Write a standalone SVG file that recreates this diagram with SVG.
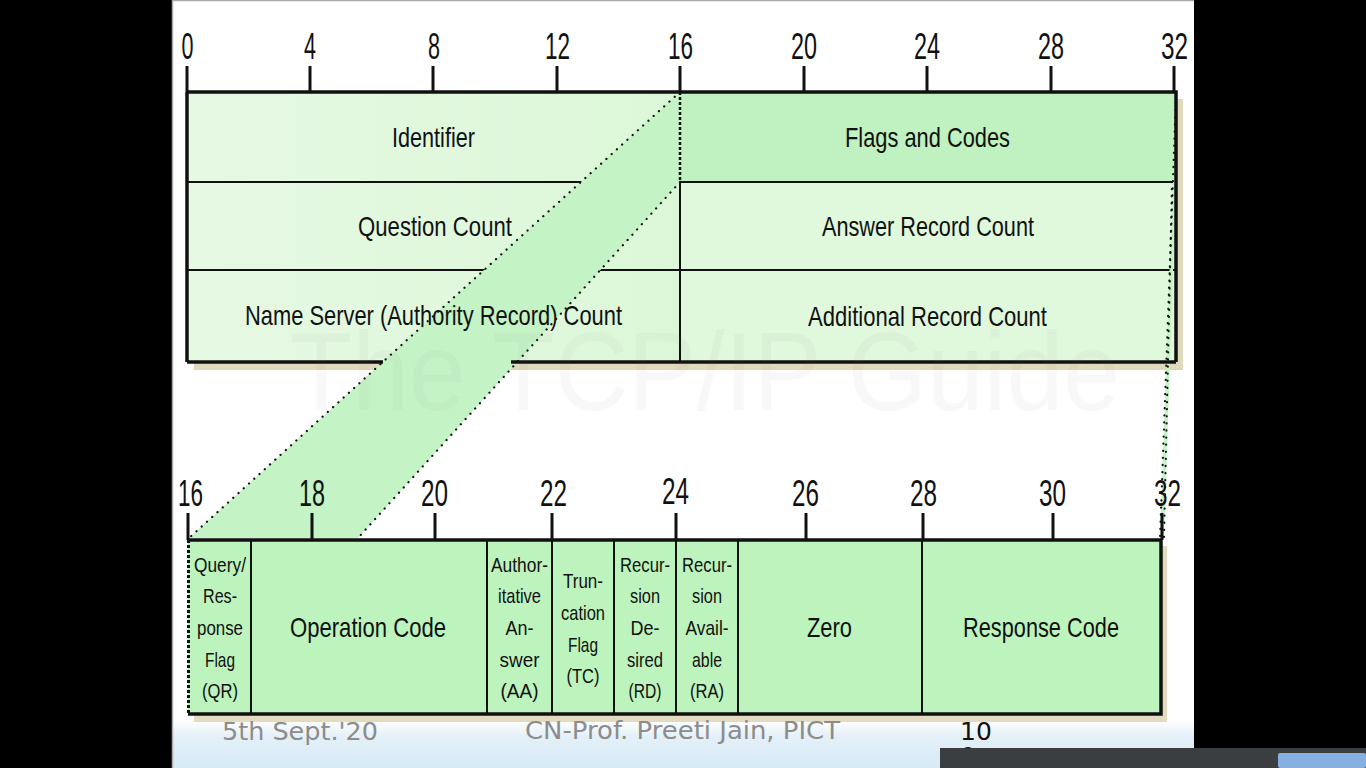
<svg xmlns="http://www.w3.org/2000/svg" width="1366" height="768" viewBox="0 0 1366 768">
<defs>
<linearGradient id="foot" x1="0" y1="0" x2="0" y2="1">
<stop offset="0" stop-color="#ffffff"/>
<stop offset="0.35" stop-color="#e3f0f8"/>
<stop offset="1" stop-color="#d6eaf6"/>
</linearGradient>
<linearGradient id="topcell" x1="0" y1="0" x2="1" y2="0">
<stop offset="0" stop-color="#e6f9e3"/>
<stop offset="1" stop-color="#dcf7d8"/>
</linearGradient>
</defs>
<style>
.n{font-family:"Liberation Sans Narrow","Liberation Sans",Arial,sans-serif;fill:#111;text-anchor:middle}
.r{font-size:36px}
.t{font-size:28px}
.s{font-size:21px}
.tick{stroke:#111;stroke-width:3}
.grid{stroke:#111;stroke-width:2;fill:none}
.border{stroke:#111;stroke-width:3.5;fill:none}
.dot{stroke:#111;stroke-width:2.2;stroke-linecap:round;stroke-dasharray:0.1 7;fill:none}
.foot{font-family:"DejaVu Sans","Open Sans",sans-serif;font-size:24px;fill:#8c8c8c}
</style>
<rect x="0" y="0" width="1366" height="768" fill="#000"/>
<rect x="172" y="0" width="1022" height="768" fill="#fff"/>
<rect x="172" y="720" width="1022" height="48" fill="url(#foot)"/>
<line x1="172" y1="0.5" x2="1194" y2="0.5" stroke="#aaa" stroke-width="1.5"/>
<line x1="172.5" y1="0" x2="172.5" y2="768" stroke="#aaa" stroke-width="1.5"/>

<g id="top-table">
<rect x="194" y="99" width="989" height="271" fill="#e0d9bb"/>
<rect x="187" y="92" width="493" height="270" fill="url(#topcell)"/>
<rect x="680" y="92" width="496" height="90" fill="#bff2c0"/>
<rect x="680" y="182" width="496" height="180" fill="#e0f8dc"/>
<line class="grid" x1="187" y1="182" x2="1176" y2="182"/>
<line class="grid" x1="187" y1="270" x2="1176" y2="270"/>
<line class="grid" x1="680" y1="182" x2="680" y2="362"/>
</g>

<g id="bottom-table">
<rect x="194" y="546" width="973" height="176" fill="#e3dbbf"/>
<rect x="188" y="540" width="973" height="174" fill="#bdf4bd"/>
<line class="grid" x1="251" y1="540" x2="251" y2="714"/>
<line class="grid" x1="487" y1="540" x2="487" y2="714"/>
<line class="grid" x1="552" y1="540" x2="552" y2="714"/>
<line class="grid" x1="614" y1="540" x2="614" y2="714"/>
<line class="grid" x1="676" y1="540" x2="676" y2="714"/>
<line class="grid" x1="738" y1="540" x2="738" y2="714"/>
<line class="grid" x1="922" y1="540" x2="922" y2="714"/>
<polyline class="border" points="188,540 1161,540 1161,714 188,714"/>
<line x1="188.5" y1="540" x2="188.5" y2="714" stroke="#111" stroke-width="3" stroke-dasharray="3 2"/>
</g>

<g id="connectors">
<polygon points="680,92 680,182 358,538 189,538" fill="#c4f3c5"/>
<polygon points="1176,92 1176,182 1164,538 1160,538" fill="#c4f3c5"/>
<line class="dot" x1="680" y1="92" x2="189" y2="538"/>
<line class="dot" x1="680" y1="182" x2="358" y2="538"/>
<line class="dot" x1="1176" y1="96" x2="1160" y2="538"/>
<line class="dot" x1="1172" y1="182" x2="1164" y2="538"/>
</g>

<g id="top-frame">
<polyline class="border" points="187,92 1176,92 1176,362"/>
<line class="border" x1="187" y1="92" x2="187" y2="362"/>
<line class="border" x1="187" y1="362" x2="383" y2="362"/>
<line class="border" x1="511" y1="362" x2="1176" y2="362"/>
<line x1="680" y1="92" x2="680" y2="182" stroke="#111" stroke-width="2.5" stroke-dasharray="3 2"/>
</g>

<g id="top-ruler">
<line class="tick" x1="187" y1="66" x2="187" y2="92"/>
<line class="tick" x1="310" y1="66" x2="310" y2="92"/>
<line class="tick" x1="433" y1="66" x2="433" y2="92"/>
<line class="tick" x1="557" y1="66" x2="557" y2="92"/>
<line class="tick" x1="680" y1="66" x2="680" y2="92"/>
<line class="tick" x1="804" y1="66" x2="804" y2="92"/>
<line class="tick" x1="927" y1="66" x2="927" y2="92"/>
<line class="tick" x1="1051" y1="66" x2="1051" y2="92"/>
<line class="tick" x1="1174" y1="66" x2="1174" y2="92"/>
<text class="n r" x="187.5" y="59" textLength="12" lengthAdjust="spacingAndGlyphs">0</text>
<text class="n r" x="310" y="59" textLength="12" lengthAdjust="spacingAndGlyphs">4</text>
<text class="n r" x="434" y="59" textLength="12" lengthAdjust="spacingAndGlyphs">8</text>
<text class="n r" x="557.5" y="59" textLength="25" lengthAdjust="spacingAndGlyphs">12</text>
<text class="n r" x="680.5" y="59" textLength="25" lengthAdjust="spacingAndGlyphs">16</text>
<text class="n r" x="804" y="59" textLength="26" lengthAdjust="spacingAndGlyphs">20</text>
<text class="n r" x="927" y="59" textLength="26" lengthAdjust="spacingAndGlyphs">24</text>
<text class="n r" x="1051" y="59" textLength="26" lengthAdjust="spacingAndGlyphs">28</text>
<text class="n r" x="1174.5" y="59" textLength="27" lengthAdjust="spacingAndGlyphs">32</text>
</g>

<g id="bottom-ruler">
<line class="tick" x1="188" y1="513" x2="188" y2="540"/>
<line class="tick" x1="312" y1="513" x2="312" y2="540"/>
<line class="tick" x1="435" y1="513" x2="435" y2="540"/>
<line class="tick" x1="552" y1="513" x2="552" y2="540"/>
<line class="tick" x1="676" y1="513" x2="676" y2="540"/>
<line class="tick" x1="806" y1="513" x2="806" y2="540"/>
<line class="tick" x1="923" y1="513" x2="923" y2="540"/>
<line class="tick" x1="1053" y1="513" x2="1053" y2="540"/>
<line class="tick" x1="1162" y1="513" x2="1162" y2="540"/>
<text class="n r" x="190.5" y="506" textLength="25" lengthAdjust="spacingAndGlyphs">16</text>
<text class="n r" x="312" y="506" textLength="26" lengthAdjust="spacingAndGlyphs">18</text>
<text class="n r" x="434.5" y="506" textLength="27" lengthAdjust="spacingAndGlyphs">20</text>
<text class="n r" x="553.5" y="506" textLength="27" lengthAdjust="spacingAndGlyphs">22</text>
<text class="n r" x="675.5" y="504" textLength="27" lengthAdjust="spacingAndGlyphs">24</text>
<text class="n r" x="805.5" y="506" textLength="27" lengthAdjust="spacingAndGlyphs">26</text>
<text class="n r" x="923.5" y="506" textLength="27" lengthAdjust="spacingAndGlyphs">28</text>
<text class="n r" x="1052.5" y="506" textLength="27" lengthAdjust="spacingAndGlyphs">30</text>
<text class="n r" x="1167.5" y="506" textLength="27" lengthAdjust="spacingAndGlyphs">32</text>
</g>

<g id="n-identifier"><text class="n t" x="433.5" y="147" textLength="83" lengthAdjust="spacingAndGlyphs">Identifier</text></g>
<g id="n-flags"><text class="n t" x="927.5" y="147" textLength="165" lengthAdjust="spacingAndGlyphs">Flags and Codes</text></g>
<g id="n-qcount"><text class="n t" x="435" y="236" textLength="154" lengthAdjust="spacingAndGlyphs">Question Count</text></g>
<g id="n-ancount"><text class="n t" x="928" y="236" textLength="212" lengthAdjust="spacingAndGlyphs">Answer Record Count</text></g>
<g id="n-nscount"><text class="n t" x="433.5" y="325" textLength="377" lengthAdjust="spacingAndGlyphs">Name Server (Authority Record) Count</text></g>
<g id="n-arcount"><text class="n t" x="927.5" y="326" textLength="239" lengthAdjust="spacingAndGlyphs">Additional Record Count</text></g>

<g id="n-qr">
<text class="n s" x="220" y="572" textLength="52" lengthAdjust="spacingAndGlyphs">Query/</text>
<text class="n s" x="220" y="603" textLength="34" lengthAdjust="spacingAndGlyphs">Res-</text>
<text class="n s" x="220" y="635" textLength="46" lengthAdjust="spacingAndGlyphs">ponse</text>
<text class="n s" x="220" y="667" textLength="30" lengthAdjust="spacingAndGlyphs">Flag</text>
<text class="n s" x="220" y="698" textLength="36" lengthAdjust="spacingAndGlyphs">(QR)</text>
</g>
<g id="n-opcode"><text class="n t" x="368" y="637" textLength="156" lengthAdjust="spacingAndGlyphs">Operation Code</text></g>
<g id="n-aa">
<text class="n s" x="519.5" y="572" textLength="57" lengthAdjust="spacingAndGlyphs">Author-</text>
<text class="n s" x="519.5" y="603" textLength="43" lengthAdjust="spacingAndGlyphs">itative</text>
<text class="n s" x="519.5" y="635" textLength="28" lengthAdjust="spacingAndGlyphs">An-</text>
<text class="n s" x="519.5" y="667" textLength="40" lengthAdjust="spacingAndGlyphs">swer</text>
<text class="n s" x="519.5" y="698" textLength="38" lengthAdjust="spacingAndGlyphs">(AA)</text>
</g>
<g id="n-tc">
<text class="n s" x="583" y="588" textLength="40" lengthAdjust="spacingAndGlyphs">Trun-</text>
<text class="n s" x="583" y="620" textLength="44" lengthAdjust="spacingAndGlyphs">cation</text>
<text class="n s" x="583" y="652" textLength="30" lengthAdjust="spacingAndGlyphs">Flag</text>
<text class="n s" x="583" y="683" textLength="33" lengthAdjust="spacingAndGlyphs">(TC)</text>
</g>
<g id="n-rd">
<text class="n s" x="645" y="572" textLength="50" lengthAdjust="spacingAndGlyphs">Recur-</text>
<text class="n s" x="645" y="603" textLength="30" lengthAdjust="spacingAndGlyphs">sion</text>
<text class="n s" x="645" y="635" textLength="29" lengthAdjust="spacingAndGlyphs">De-</text>
<text class="n s" x="645" y="667" textLength="36" lengthAdjust="spacingAndGlyphs">sired</text>
<text class="n s" x="645" y="698" textLength="33" lengthAdjust="spacingAndGlyphs">(RD)</text>
</g>
<g id="n-ra">
<text class="n s" x="707" y="572" textLength="50" lengthAdjust="spacingAndGlyphs">Recur-</text>
<text class="n s" x="707" y="603" textLength="30" lengthAdjust="spacingAndGlyphs">sion</text>
<text class="n s" x="707" y="635" textLength="43" lengthAdjust="spacingAndGlyphs">Avail-</text>
<text class="n s" x="707" y="667" textLength="30" lengthAdjust="spacingAndGlyphs">able</text>
<text class="n s" x="707" y="698" textLength="34" lengthAdjust="spacingAndGlyphs">(RA)</text>
</g>
<g id="n-zero"><text class="n t" x="829.5" y="637" textLength="45" lengthAdjust="spacingAndGlyphs">Zero</text></g>
<g id="n-rcode"><text class="n t" x="1041" y="637" textLength="156" lengthAdjust="spacingAndGlyphs">Response Code</text></g>

<g id="watermark">
<text x="705" y="410" font-family="Liberation Sans, sans-serif" font-size="112" text-anchor="middle" textLength="830" lengthAdjust="spacingAndGlyphs" fill="#777" opacity="0.045">The TCP/IP Guide</text>
</g>

<g id="footer">
<text class="foot" x="222" y="740" textLength="156" lengthAdjust="spacingAndGlyphs">5th Sept.'20</text>
<text class="foot" x="525" y="739" textLength="315" lengthAdjust="spacingAndGlyphs">CN-Prof. Preeti Jain, PICT</text>
<text x="960" y="740" font-family="DejaVu Sans, sans-serif" font-size="25" fill="#111">10</text>
<text x="960" y="765" font-family="DejaVu Sans, sans-serif" font-size="25" fill="#111">0</text>
</g>
<g id="taskbar">
<rect x="940" y="748" width="426" height="20" fill="#3b3e41"/>
<rect x="1278" y="753" width="88" height="15" rx="2" fill="#86b0e2"/>
</g>
</svg>
